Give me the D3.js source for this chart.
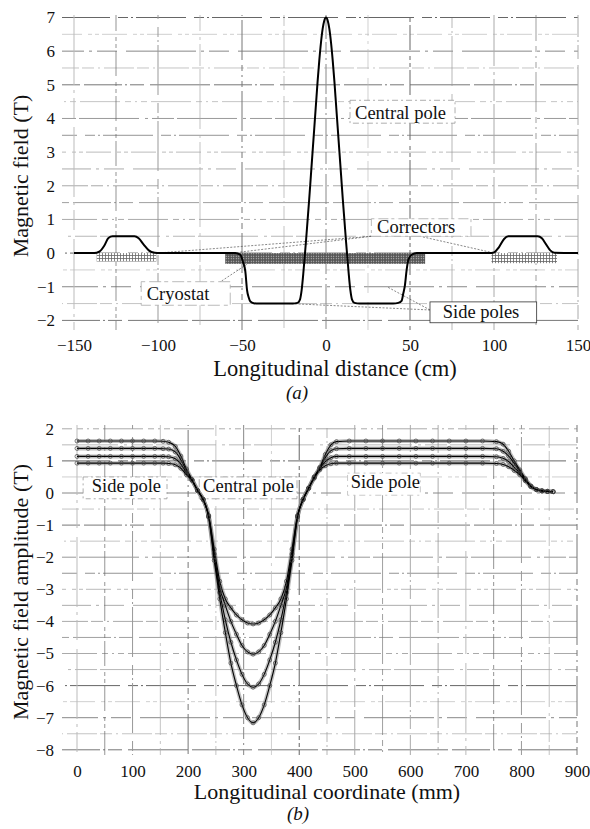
<!DOCTYPE html>
<html><head><meta charset="utf-8">
<script src="https://cdn.jsdelivr.net/npm/d3@7"></script>
<style>
html,body{margin:0;padding:0;background:#fff;}
svg{display:block;font-family:"Liberation Serif","Times New Roman","DejaVu Serif",serif;}
</style></head>
<body>
<svg id="chart" width="590" height="829"></svg>
<script>
// ---------- DATA ----------
// (a) field along the undulator axis
const topXTicks = [-150, -100, -50, 0, 50, 100, 150];
const topYTicks = [-2, -1, 0, 1, 2, 3, 4, 5, 6, 7];
const topDistance = [-150,-138,-135,-132,-129.5,-127,-114,-111.5,-108.5,-105.5,-102,-99,-60,-54,-51,-49.5,-48,-47,-46,-45,-43,-40,-30,-20,-17,-15.5,-14.5,-13.5,-12.5,-12,-11,-10,-9,-8,-7,-6,-5,-4,-3,-2,-1,0,1,2,3,4,5,6,7,8,9,10,11,12,12.5,13.5,14.5,15.5,17,20,30,40,43,45,46,47,48,49,51,54,60,97,100,103,106,108.5,126,128.5,131,133.5,136,150];
const topField = [0,0,0.04,0.22,0.45,0.5,0.5,0.44,0.25,0.08,0.01,0,0,0,-0.05,-0.25,-0.55,-1.1,-1.32,-1.44,-1.49,-1.5,-1.5,-1.5,-1.48,-1.38,-1.1,-0.6,0,0.3,0.95,1.6,2.3,3.0,3.7,4.4,5.1,5.72,6.25,6.66,6.91,7.0,6.91,6.66,6.25,5.72,5.1,4.4,3.7,3.0,2.3,1.6,0.95,0.3,0,-0.6,-1.1,-1.38,-1.48,-1.5,-1.5,-1.5,-1.48,-1.42,-1.2,-0.95,-0.5,-0.2,-0.05,0,0,0,0.02,0.18,0.42,0.5,0.5,0.44,0.26,0.08,0.01,0];
// hatched blocks
const blockNames = ["corrL", "cryostat", "corrR"];
const blockX0 = [-136.5, -60, 98.5];
const blockX1 = [-101, 59, 137.5];
const blockTop = [0, 0, 0];
const blockBottom = [-0.25, -0.32, -0.3];

// (b) measured field amplitude
const botXTicks = [0, 100, 200, 300, 400, 500, 600, 700, 800, 900];
const botYTicks = [-8, -7, -6, -5, -4, -3, -2, -1, 0, 1, 2];
const botCoord = [0,20,40,60,80,100,120,140,155,165,177,187,197,207,217,227,237,247,257,267,277,287,297,307,317,327,337,347,357,367,377,387,397,407,417,427,437,447,457,467,490,520,550,580,610,640,670,700,730,755,767,777,787,797,807,817,827,837,847,857];
const botS1 = [1.62,1.62,1.62,1.62,1.62,1.62,1.62,1.62,1.61,1.58,1.45,1.15,0.75,0.42,0.08,-0.2,-0.7,-1.75,-2.75,-3.3,-3.58,-3.8,-3.95,-4.05,-4.08,-4.05,-3.95,-3.8,-3.58,-3.3,-2.75,-1.75,-0.7,-0.2,0.15,0.5,0.8,1.2,1.5,1.6,1.62,1.62,1.62,1.62,1.62,1.62,1.62,1.62,1.62,1.6,1.52,1.3,1.0,0.72,0.45,0.22,0.11,0.07,0.05,0.04];
const botS2 = [1.39,1.39,1.39,1.39,1.39,1.39,1.39,1.39,1.38,1.37,1.28,1.03,0.7,0.41,0.08,-0.2,-0.72,-1.9,-2.95,-3.5,-4.0,-4.4,-4.75,-4.95,-5.02,-4.95,-4.75,-4.4,-4.0,-3.5,-2.95,-1.9,-0.72,-0.2,0.15,0.5,0.78,1.1,1.32,1.38,1.39,1.39,1.39,1.39,1.39,1.39,1.39,1.39,1.39,1.38,1.3,1.15,0.92,0.68,0.43,0.21,0.11,0.07,0.05,0.04];
const botS3 = [1.14,1.14,1.14,1.14,1.14,1.14,1.14,1.14,1.14,1.13,1.07,0.9,0.63,0.40,0.08,-0.2,-0.74,-2.0,-3.1,-3.95,-4.65,-5.2,-5.65,-5.95,-6.05,-5.95,-5.65,-5.2,-4.65,-3.95,-3.1,-2.0,-0.74,-0.2,0.15,0.48,0.76,0.98,1.1,1.14,1.14,1.14,1.14,1.14,1.14,1.14,1.14,1.14,1.14,1.13,1.08,0.98,0.8,0.62,0.4,0.2,0.1,0.06,0.05,0.04];
const botS4 = [0.93,0.93,0.93,0.93,0.93,0.93,0.93,0.93,0.93,0.92,0.88,0.77,0.57,0.39,0.08,-0.2,-0.75,-2.1,-3.3,-4.35,-5.3,-6.0,-6.6,-7.0,-7.16,-7.0,-6.6,-6.0,-5.3,-4.35,-3.3,-2.1,-0.75,-0.2,0.15,0.46,0.72,0.85,0.91,0.93,0.93,0.93,0.93,0.93,0.93,0.93,0.93,0.93,0.93,0.92,0.89,0.82,0.7,0.57,0.38,0.2,0.1,0.06,0.05,0.04];

// ---------- DRAW ----------
const FONT = "'Liberation Serif', 'Times New Roman', 'DejaVu Serif', serif";
const svg = d3.select("#chart");
const defs = svg.append("defs");
const p1 = defs.append("pattern").attr("id","lightHatch").attr("width",3).attr("height",3).attr("patternUnits","userSpaceOnUse");
p1.append("rect").attr("width",3).attr("height",3).attr("fill","#fff");
p1.append("path").attr("d","M0,0.5H3M0.5,0V3").attr("stroke","#666").attr("stroke-width",0.8);
const p2 = defs.append("pattern").attr("id","darkHatch").attr("width",2.5).attr("height",2.5).attr("patternUnits","userSpaceOnUse");
p2.append("rect").attr("width",2.5).attr("height",2.5).attr("fill","#555");
p2.append("circle").attr("cx",1.25).attr("cy",1.25).attr("r",0.55).attr("fill","#ddd");

const dashSet = ["38 3 2 3 14 6 60 4", "12 4 2 4 30 3", "70 5 3 5 20 9", "4 3 4 3 25 6", "50 8 10 3 2 3", "22 3 60 6 3 4", "6 4 2 4 6 4 40 5"];
const colSet = ["#777","#aaa","#888","#bbb","#666","#999","#aaa"];

function grid(g, xs, ys, xTicks, yTicks, xr, yr) {
  yTicks.forEach((t,i)=>{
    g.append("line").attr("x1",xr[0]).attr("x2",xr[1]).attr("y1",ys(t)).attr("y2",ys(t))
      .attr("stroke",colSet[i%colSet.length]).attr("stroke-width", i%2? 0.7:1)
      .attr("stroke-dasharray",dashSet[i%dashSet.length]).attr("stroke-dashoffset", i*17);
  });
  xTicks.forEach((t,i)=>{
    g.append("line").attr("y1",yr[0]).attr("y2",yr[1]).attr("x1",xs(t)).attr("x2",xs(t))
      .attr("stroke",colSet[(i+3)%colSet.length]).attr("stroke-width", i%2? 0.7:1)
      .attr("stroke-dasharray",dashSet[(i+2)%dashSet.length]).attr("stroke-dashoffset", i*23);
  });
}

// ======== (a) ========
const xA = d3.scaleLinear().domain([-150,150]).range([74,578]);
const yA = d3.scaleLinear().domain([-2,7]).range([320.4,17.5]);
const gA = svg.append("g");
grid(gA, xA, yA, d3.range(-150,151,25), d3.range(-2,7.01,0.5), [62,578], [15,330]);

const axA = gA.append("g").attr("transform",`translate(0,${yA(-2)})`)
  .call(d3.axisBottom(xA).tickValues(topXTicks).tickSize(0).tickPadding(19));
const ayA = gA.append("g").attr("transform",`translate(${xA(-150)},0)`)
  .call(d3.axisLeft(yA).tickValues(topYTicks).tickSize(0).tickPadding(19));
[axA, ayA].forEach(a=>{a.select(".domain").remove(); a.attr("font-family",FONT); a.selectAll("text").attr("font-size",17).attr("fill","#111");});

blockNames.forEach((n,i)=>{
  gA.append("rect").attr("x",xA(blockX0[i])).attr("width",xA(blockX1[i])-xA(blockX0[i]))
    .attr("y",yA(blockTop[i])).attr("height",yA(blockBottom[i])-yA(blockTop[i]))
    .attr("fill", n==="cryostat" ? "url(#darkHatch)" : "url(#lightHatch)");
});

const leaders = [[-100.6,0,27,0.5],[-51,0.03,27,0.5],[57.7,0.48,97.6,0.03],[-67.3,-1.0,-45.2,-0.27],[61.9,-1.69,-22,-1.5],[61.9,-1.69,36.3,-1.0]];
leaders.forEach(l=>{
  gA.append("line").attr("x1",xA(l[0])).attr("y1",yA(l[1])).attr("x2",xA(l[2])).attr("y2",yA(l[3]))
    .attr("stroke","#555").attr("stroke-width",0.7).attr("stroke-dasharray","2 1.5");
});

const lineA = d3.line().x((d,i)=>xA(topDistance[i])).y(d=>yA(d)).curve(d3.curveMonotoneX);
gA.append("path").datum(topField).attr("d",lineA).attr("fill","none").attr("stroke","#000").attr("stroke-width",2);

function labelBox(g, x, y, w, h, stroke, dash){
  g.append("rect").attr("x",x).attr("y",y).attr("width",w).attr("height",h)
   .attr("fill","#fff").attr("stroke",stroke).attr("stroke-width",0.8).attr("stroke-dasharray",dash||null);
}
labelBox(gA, xA(14.3), yA(4.54), xA(76.8)-xA(14.3), yA(3.86)-yA(4.54), "#999", "6 3 2 3");
gA.append("text").attr("x",xA(17.3)).attr("y",yA(3.98)).attr("font-size",18.5).text("Central pole");
labelBox(gA, xA(27), yA(1.02), xA(86.3)-xA(27), yA(0.5)-yA(1.02), "#aaa", "3 4 10 3");
gA.append("text").attr("x",xA(30.4)).attr("y",yA(0.6)).attr("font-size",18.5).text("Correctors");
labelBox(gA, xA(-110), yA(-0.85), xA(-57)-xA(-110), yA(-1.55)-yA(-0.85), "#aaa", "4 4 12 3");
gA.append("text").attr("x",xA(-106.7)).attr("y",yA(-1.39)).attr("font-size",18.5).text("Cryostat");
labelBox(gA, xA(61.9), yA(-1.45), xA(125.4)-xA(61.9), yA(-2.07)-yA(-1.45), "#333");
gA.append("text").attr("x",xA(69.5)).attr("y",yA(-1.92)).attr("font-size",18.5).text("Side poles");

svg.append("text").attr("x",335).attr("y",376).attr("text-anchor","middle").attr("font-size",22.5).text("Longitudinal distance (cm)");
svg.append("text").attr("x",297).attr("y",399).attr("text-anchor","middle").attr("font-size",19).attr("font-style","italic").text("(a)");
svg.append("text").attr("transform","translate(28,176) rotate(-90)").attr("text-anchor","middle").attr("font-size",22).text("Magnetic field (T)");

// ======== (b) ========
const xB = d3.scaleLinear().domain([0,900]).range([77,577]);
const yB = d3.scaleLinear().domain([-8,2]).range([749.8,428.8]);
const gB = svg.append("g");
grid(gB, xB, yB, d3.range(0,901,50), d3.range(-8,2.01,0.5), [62,577], [425,755]);

const axB = gB.append("g").attr("transform",`translate(0,${yB(-8)})`)
  .call(d3.axisBottom(xB).tickValues(botXTicks).tickSize(0).tickPadding(15));
const ayB = gB.append("g").attr("transform",`translate(${xB(0)},0)`)
  .call(d3.axisLeft(yB).tickValues(botYTicks).tickSize(0).tickPadding(23));
[axB, ayB].forEach(a=>{a.select(".domain").remove(); a.attr("font-family",FONT); a.selectAll("text").attr("font-size",17).attr("fill","#111");});

labelBox(gB, xB(11), yB(0.5), xB(162)-xB(11), yB(-0.18)-yB(0.5), "#999", "5 3 2 3");
gB.append("text").attr("x",xB(26.5)).attr("y",yB(0.04)).attr("font-size",18.5).text("Side pole");
labelBox(gB, xB(220), yB(0.5), xB(396)-xB(220), yB(-0.18)-yB(0.5), "#999", "2 3 8 3");
gB.append("text").attr("x",xB(227)).attr("y",yB(0.04)).attr("font-size",18.5).text("Central pole");
labelBox(gB, xB(487), yB(0.62), xB(618)-xB(487), yB(-0.07)-yB(0.62), "#bbb", "2 4 6 4");
gB.append("text").attr("x",xB(492.6)).attr("y",yB(0.15)).attr("font-size",18.5).text("Side pole");

const seriesB = [botS1, botS2, botS3, botS4];
const lineB = d3.line().x((d,i)=>xB(botCoord[i])).y(d=>yB(d)).curve(d3.curveMonotoneX);
seriesB.forEach(s=>{
  gB.append("path").datum(s).attr("d",lineB).attr("fill","none").attr("stroke","#888").attr("stroke-width",4).attr("stroke-opacity",0.55);
});
seriesB.forEach((s,k)=>{
  gB.append("path").datum(s).attr("d",lineB).attr("fill","none").attr("stroke","#000").attr("stroke-width",1.1);
  gB.selectAll(null).data(s).enter().append("circle")
    .attr("cx",(d,i)=>xB(botCoord[i])).attr("cy",d=>yB(d)).attr("r",2)
    .attr("fill","none").attr("stroke","#444").attr("stroke-width",0.7);
});

svg.append("text").attr("x",327).attr("y",799).attr("text-anchor","middle").attr("font-size",22).text("Longitudinal coordinate (mm)");
svg.append("text").attr("x",298).attr("y",820).attr("text-anchor","middle").attr("font-size",19).attr("font-style","italic").text("(b)");
svg.append("text").attr("transform","translate(28,592) rotate(-90)").attr("text-anchor","middle").attr("font-size",22).text("Magnetic field amplitude (T)");

svg.selectAll("text").attr("font-family", FONT).attr("fill","#111");
</script>
</body></html>
